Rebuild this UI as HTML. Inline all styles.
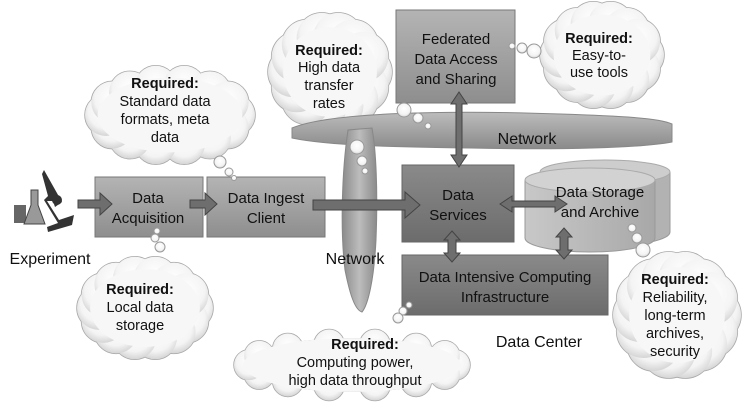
<!DOCTYPE html>
<html><head><meta charset="utf-8"><style>
html,body{margin:0;padding:0;background:#fff;}
svg{display:block;font-family:"Liberation Sans",Arial,sans-serif;}
</style></head><body>
<svg id="s" width="750" height="410" viewBox="0 0 750 410" xmlns="http://www.w3.org/2000/svg">
<defs>
<radialGradient id="cg" cx="50%" cy="40%" r="60%"><stop offset="0" stop-color="#fff"/><stop offset="0.7" stop-color="#f4f4f4"/><stop offset="1" stop-color="#d5d5d5"/></radialGradient>
<linearGradient id="bl" x1="0" y1="0" x2="0" y2="1"><stop offset="0" stop-color="#b4b4b4"/><stop offset="1" stop-color="#8e8e8e"/></linearGradient>
<linearGradient id="bd" x1="0" y1="0" x2="0" y2="1"><stop offset="0" stop-color="#8a8a8a"/><stop offset="1" stop-color="#6c6c6c"/></linearGradient>
<linearGradient id="cy" x1="0" y1="0" x2="1" y2="0"><stop offset="0" stop-color="#c8c8c8"/><stop offset="1" stop-color="#a8a8a8"/></linearGradient>
<linearGradient id="nw" x1="0" y1="0" x2="0" y2="1"><stop offset="0" stop-color="#bcbcbc"/><stop offset="1" stop-color="#8a8a8a"/></linearGradient>
<linearGradient id="nv" x1="0" y1="0" x2="1" y2="0"><stop offset="0" stop-color="#8a8a8a"/><stop offset="0.5" stop-color="#bdbdbd"/><stop offset="1" stop-color="#8a8a8a"/></linearGradient>
</defs>
<g id="clouds"></g>
<path d="M292,128 C330,112 450,110 560,114 C620,116 660,118 672,124 L672,142 C640,148 560,150 470,148 C400,147 330,146 292,138 Z" fill="url(#nw)" stroke="#888"/>
<path d="M348,130 C342,170 340,230 345,270 C350,295 355,310 362,312 C368,305 374,280 376,240 C378,190 376,150 372,128 Z" fill="url(#nv)" stroke="#888"/>
<rect x="95" y="177" width="108" height="60" fill="url(#bl)" stroke="#777"/>
<rect x="207" y="177" width="118" height="60" fill="url(#bl)" stroke="#777"/>
<rect x="396" y="10" width="119" height="93" fill="url(#bl)" stroke="#777"/>
<rect x="402" y="165" width="112" height="77" fill="url(#bd)" stroke="#666"/>
<rect x="402" y="255" width="206" height="60" fill="url(#bd)" stroke="#666"/>
<path d="M540,172 L540,232 A65,14 0 0 0 670,232 L670,172" fill="#b2b2b2" stroke="#999"/>
<ellipse cx="605" cy="172" rx="65" ry="12" fill="#cdcdcd" stroke="#aaa"/>
<path d="M525,180 L525,238 A65,14 0 0 0 655,238 L655,180" fill="url(#cy)" stroke="#999"/>
<ellipse cx="590" cy="180" rx="65" ry="12" fill="#d2d2d2" stroke="#aaa"/>
<g fill="#6e6e6e" stroke="#444" stroke-width="1">
<path d="M78,200 L100,200 L100,193 L112,204 L100,215 L100,208 L78,208 Z"/>
<path d="M190,200 L205,200 L205,193 L217,204 L205,215 L205,208 L190,208 Z"/>
<path d="M313,200 L405,200 L405,192 L420,205 L405,218 L405,210 L313,210 Z"/>
<path d="M500,204 L512,196 L512,201 L555,201 L555,196 L567,204 L555,212 L555,207 L512,207 L512,212 Z"/>
<path d="M459,92 L467,104 L462,104 L462,155 L467,155 L459,167 L451,155 L456,155 L456,104 L451,104 Z"/>
<path d="M452,231 L460,240 L456,240 L456,253 L460,253 L452,262 L444,253 L448,253 L448,240 L444,240 Z"/>
<path d="M564,228 L572,237 L568,237 L568,250 L572,250 L564,259 L556,250 L560,250 L560,237 L556,237 Z"/>
</g>
<g fill="#333">
<rect x="14" y="205" width="12" height="18" fill="#666"/>
<path d="M31,190 L38,190 L38,205 L45,224 L24,224 L31,205 Z" fill="#999" stroke="#444"/>
<path d="M44,170 L62,202 L55,207 L53,201 L47,201 L59,220 L74,215 L72,225 L48,232 L47,227 L58,223 L44,200 L48,196 L42,174 Z"/>
<circle cx="57" cy="200" r="5"/>
</g>
<g fill="url(#cg)" stroke="#999">
<circle cx="220" cy="162" r="6"/><circle cx="229" cy="172" r="4"/><circle cx="234" cy="178" r="2.5"/>
<circle cx="157" cy="231" r="3"/><circle cx="155" cy="238" r="4"/><circle cx="160" cy="247" r="5"/>
<circle cx="357" cy="147" r="7"/><circle cx="362" cy="161" r="5"/><circle cx="365" cy="171" r="3"/>
<circle cx="404" cy="110" r="7"/><circle cx="418" cy="118" r="5"/><circle cx="428" cy="126" r="3"/>
<circle cx="512" cy="46" r="3"/><circle cx="522" cy="48" r="5"/><circle cx="534" cy="51" r="7"/>
<circle cx="632" cy="228" r="4"/><circle cx="637" cy="238" r="5"/><circle cx="643" cy="250" r="7"/>
<circle cx="409" cy="305" r="3"/><circle cx="403" cy="311" r="4"/><circle cx="398" cy="318" r="5"/>
</g>
<g font-size="14.5" fill="#111" text-anchor="middle">
<text x="165" y="88" font-weight="bold">Required:</text>
<text x="165" y="106">Standard data</text><text x="165" y="124">formats, meta</text><text x="165" y="142">data</text>
<text x="140" y="294" font-weight="bold">Required:</text>
<text x="140" y="312">Local data</text><text x="140" y="330">storage</text>
<text x="329" y="55" font-weight="bold">Required:</text>
<text x="329" y="72">High data</text><text x="329" y="90">transfer</text><text x="329" y="108">rates</text>
<text x="365" y="349" font-weight="bold">Required:</text>
<text x="355" y="367">Computing power,</text><text x="355" y="385">high data throughput</text>
<text x="599" y="43" font-weight="bold">Required:</text>
<text x="599" y="60">Easy-to-</text><text x="599" y="77">use tools</text>
<text x="675" y="284" font-weight="bold">Required:</text>
<text x="675" y="302">Reliability,</text><text x="675" y="320">long-term</text><text x="675" y="338">archives,</text><text x="675" y="356">security</text>
</g>
<g font-size="15" fill="#111" text-anchor="middle">
<text x="148" y="203">Data</text><text x="148" y="223">Acquisition</text>
<text x="266" y="203">Data Ingest</text><text x="266" y="223">Client</text>
<text x="456" y="44">Federated</text><text x="456" y="64">Data Access</text><text x="456" y="84">and Sharing</text>
<text x="458" y="200">Data</text><text x="458" y="220">Services</text>
<text x="600" y="197">Data Storage</text><text x="600" y="217">and Archive</text>
<text x="505" y="282">Data Intensive Computing</text><text x="505" y="302">Infrastructure</text>
</g>
<g font-size="16" fill="#111" text-anchor="middle">
<text x="50" y="264">Experiment</text>
<text x="355" y="264">Network</text>
<text x="527" y="144">Network</text>
<text x="539" y="347">Data Center</text>
</g>
</svg>
<script>
(function(){
var g=document.getElementById('clouds'),ns='http://www.w3.org/2000/svg';
var cl=[[170,115,85,50],[145,308,68,52],[330,72,62,60],[352,365,118,36],[602,55,62,54],[677,315,64,64]];
function mk(t,a){var e=document.createElementNS(ns,t);for(var k in a)e.setAttribute(k,a[k]);g.appendChild(e);}
[['#a8a8a8',1.5],['url(#cg)',0]].forEach(function(p){
cl.forEach(function(c){var r=0.42*Math.min(c[2],c[3]);
for(var i=0;i<14;i++){var t=i*Math.PI*2/14;mk('circle',{cx:c[0]+(c[2]-r)*Math.cos(t),cy:c[1]+(c[3]-r)*Math.sin(t),r:r,fill:p[0],stroke:p[1]?p[0]:'none','stroke-width':p[1]});}
mk('ellipse',{cx:c[0],cy:c[1],rx:c[2]-r*0.6,ry:c[3]-r*0.6,fill:p[1]?'#a8a8a8':'#f7f7f7'});});});
})();
</script>
</body></html>
